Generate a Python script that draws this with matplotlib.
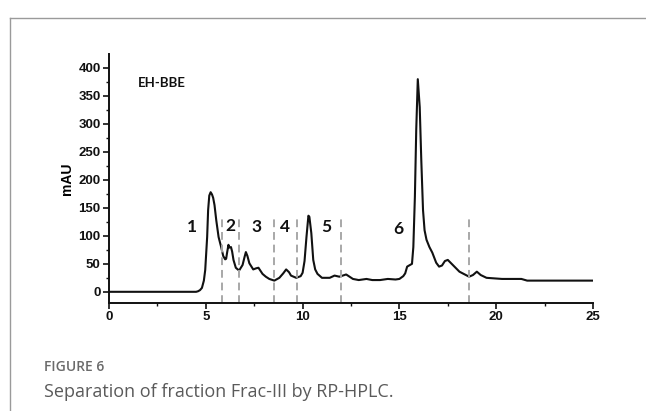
import matplotlib
matplotlib.use("Agg")
import matplotlib.pyplot as plt
from matplotlib.lines import Line2D

# Retention time (min) and absorbance (mAU)
time = [0.0, 4.5, 4.6, 4.7, 4.8, 4.9, 4.97, 5.07, 5.12, 5.18,
        5.25, 5.32, 5.38, 5.45, 5.54, 5.66, 5.8, 5.9, 6.0, 6.05,
        6.1, 6.17, 6.22, 6.3, 6.36, 6.43, 6.55, 6.72, 6.9, 7.0,
        7.07, 7.15, 7.25, 7.45, 7.6, 7.72, 7.93, 8.1, 8.28, 8.54,
        8.8, 9.0, 9.15, 9.3, 9.4, 9.67, 9.9, 10.0, 10.1, 10.2,
        10.3, 10.35, 10.45, 10.55, 10.65, 10.77, 11.0, 11.4, 11.65, 11.9,
        12.25, 12.6, 12.9, 13.3, 13.6, 14.0, 14.4, 14.8, 15.0, 15.2,
        15.3, 15.4, 15.55, 15.65, 15.72, 15.8, 15.87, 15.95, 16.05, 16.13,
        16.22, 16.3, 16.4, 16.55, 16.7, 16.9, 17.05, 17.2, 17.35, 17.5,
        17.7, 18.1, 18.6, 18.8, 19.0, 19.2, 19.5, 20.3, 21.0, 21.3,
        21.6, 25.0]
mau = [0, 0, 1, 3, 7, 20, 39, 98, 146, 172,
       178, 174, 168, 155, 128, 98, 79, 64, 58, 59,
       70, 84, 79, 80, 72, 57, 43, 38, 48, 62,
       71, 64, 51, 40, 42, 43, 32, 27, 23, 20,
       25, 33, 40, 35, 29, 25, 28, 34, 55, 98,
       136, 134, 105, 57, 40, 32, 25, 25, 29, 27,
       31, 23, 21, 23, 21, 21, 23, 22, 23, 28,
       33, 45, 48, 50, 80, 170, 290, 380, 330, 236,
       146, 110, 93, 80, 70, 52, 45, 47, 55, 57,
       50, 36, 27, 30, 36, 30, 25, 23, 23, 23,
       20, 20]

# Fraction boundaries (dashed) and fraction labels
cut_times = [5.85, 6.73, 8.54, 9.73, 12.0, 18.6]
cut_top = 135
frac_labels = ["1", "2", "3", "4", "5", "6"]
frac_x = [4.3, 6.25, 7.6, 9.1, 11.2, 14.95]
frac_y = [116, 117, 115, 115, 115, 112]

sample_label = "EH-BBE"
y_label = "mAU"
xticks = [0, 5, 10, 15, 20, 25]
yticks = [0, 50, 100, 150, 200, 250, 300, 350, 400]
fig_label = "FIGURE 6"
caption = "Separation of fraction Frac-III by RP-HPLC."

W, H = 646, 411
fig = plt.figure(figsize=(W / 100, H / 100), dpi=100)
fig.patch.set_facecolor("white")

# card border (left and top)
fig.add_artist(Line2D([10 / W, 10 / W], [0, 1 - 18 / H], color="#9a9a9a", lw=1.0))
fig.add_artist(Line2D([10 / W, 1], [1 - 18 / H, 1 - 18 / H], color="#9a9a9a", lw=1.0))

ax = fig.add_axes([109 / W, 1 - 303 / H, (593 - 109) / W, (303 - 54) / H])
ax.plot(time, mau, color="#111111", lw=1.5, solid_joinstyle="round")
ax.vlines(cut_times, -20, cut_top, colors="#a8a8a8", linestyles=(0, (4, 2.5)), lw=1.4)

for lab, xx, yy in zip(frac_labels, frac_x, frac_y):
    ax.text(xx, yy, lab, ha="center", va="center", fontsize=12.5,
            fontweight="bold", family="Lato", color="#111111")
ax.text(1.5, 373, sample_label, ha="left", va="center", fontsize=9.5,
        fontweight="bold", family="Lato", color="#111111")

ax.set_xlim(0, 25)
ax.set_ylim(-20, 425)
ax.set_xticks(xticks)
ax.set_yticks(yticks)
ax.set_xticks([2.5, 7.5, 12.5, 17.5, 22.5], minor=True)
ax.set_yticks([25, 75, 125, 175, 225, 275, 325, 375], minor=True)
for s in ["top", "right"]:
    ax.spines[s].set_visible(False)
for s in ["left", "bottom"]:
    ax.spines[s].set_linewidth(1.4)
    ax.spines[s].set_color("#111111")
ax.tick_params(which="major", direction="out", length=4, width=1.2, color="#111111", pad=2)
ax.tick_params(which="minor", direction="out", length=2.5, width=1.0, color="#111111")
for lbl in ax.get_xticklabels() + ax.get_yticklabels():
    lbl.set_fontfamily("Liberation Sans")
    lbl.set_fontweight("bold")
    lbl.set_fontsize(9.5)
    lbl.set_color("#111111")
ax.set_ylabel(y_label, fontsize=10, fontweight="bold", family="Liberation Sans", labelpad=3)
ax.patch.set_alpha(0)

fig.text(44 / W, 1 - 367 / H, fig_label, ha="left", va="center", fontsize=10,
         family="Open Sans", fontweight="semibold", color="#6b6b6b")
fig.text(44 / W, 1 - 392 / H, caption, ha="left", va="center", fontsize=13,
         family="Open Sans", color="#5a5a5a")

fig.savefig("out.png", dpi=100, facecolor="white")
